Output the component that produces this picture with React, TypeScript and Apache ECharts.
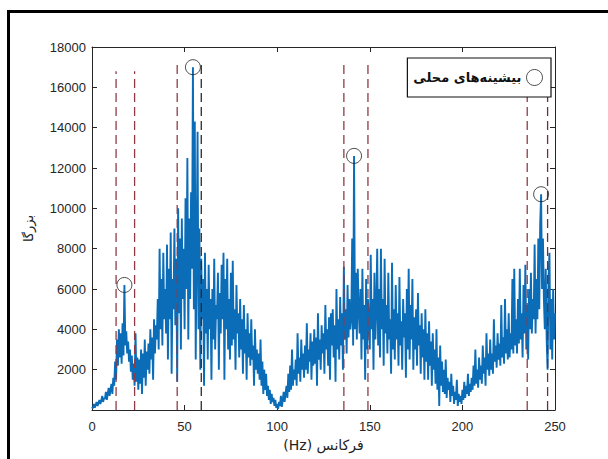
import React, { useEffect, useRef } from "react";
import * as echarts from "echarts";

const magnitude: number[] = [
  150, 80, 300, 120, 250, 400, 200, 350, 500, 300,
  450, 700, 400, 600, 550, 900, 500, 800, 1100, 700,
  1000, 1300, 800, 1600, 1200, 2400, 1500, 3500, 2200, 4000,
  2600, 3800, 2300, 4300, 2700, 6200, 3200, 3900, 2800, 3400,
  2400, 3000, 1900, 2700, 1500, 2300, 1200, 3800, 1400, 2600,
  1000, 2500, 1300, 3000, 800, 2800, 1600, 3500, 1200, 2900,
  2000, 3300, 1800, 4000, 2500, 3600, 1500, 4500, 2800, 4200,
  3500, 5500, 3000, 8000, 4000, 6500, 3200, 7800, 4500, 6000,
  3800, 8200, 2500, 7000, 4500, 8800, 1800, 6500, 5000, 9000,
  4200, 7500, 1400, 10000, 4800, 8500, 3000, 9500, 5500, 8000,
  4000, 10500, 6000, 12500, 3500, 9500, 5500, 10800, 7000, 17000,
  5000, 14300, 2500, 8000, 13800, 4000, 9000, 2000, 7500, 4500,
  6500, 1200, 7800, 3800, 6000, 2500, 7200, 4000, 5500, 1500,
  6000, 3500, 7500, 3000, 5200, 4500, 6800, 2000, 5800, 3800,
  7200, 4500, 7800, 1500, 6500, 4000, 7500, 3000, 5500, 2500,
  6800, 3200, 7400, 3500, 5000, 2000, 6200, 3800, 4800, 2600,
  5500, 3000, 4500, 1800, 5200, 2800, 4000, 1500, 4800, 2600,
  3800, 2200, 4500, 2500, 3200, 1200, 4000, 2000, 3000, 1800,
  2800, 1500, 3500, 1200, 2400, 800, 2000, 1000, 1800, 700,
  1200, 500, 1000, 300, 800, 400, 600, 200, 500, 100,
  300, 50, 400, 200, 700, 150, 500, 900, 400, 800,
  1200, 600, 1800, 900, 2200, 1000, 3000, 1200, 2000, 1500,
  2500, 1200, 3800, 1800, 2600, 1400, 3500, 2000, 2800, 1600,
  3200, 2000, 4300, 1800, 3000, 2400, 3800, 1500, 3400, 2200,
  4000, 2300, 3600, 1200, 4800, 2500, 3500, 2000, 4200, 2800,
  3800, 1800, 5200, 3000, 4000, 2200, 4600, 1500, 4800, 3200,
  5000, 2600, 4200, 1400, 6000, 3000, 4500, 2500, 5600, 3200,
  4800, 2000, 7100, 3500, 5000, 2800, 6200, 3600, 5500, 4000,
  4500, 8500, 3200, 12600, 4000, 6800, 3500, 7000, 5000, 3800,
  6000, 2500, 7000, 3500, 5200, 1500, 6500, 3000, 5500, 4200,
  3000, 7700, 4000, 5500, 2000, 6800, 3500, 5000, 8000, 3200,
  6000, 2600, 8000, 4000, 5500, 2200, 7500, 3800, 5200, 2800,
  6800, 3500, 4500, 1800, 7300, 3000, 5000, 2500, 6200, 3500,
  4800, 2200, 6600, 3200, 4400, 2000, 5500, 3600, 4800, 1600,
  6000, 3000, 7000, 2500, 5200, 3500, 6500, 2000, 4600, 3000,
  5000, 2200, 5800, 3200, 4200, 1800, 4800, 2600, 4000, 1500,
  5000, 2400, 3800, 1500, 4400, 2200, 3400, 1200, 3800, 2000,
  3000, 1300, 4000, 1000, 2600, 200, 3200, 1200, 2400, 900,
  2000, 800, 2500, 600, 1600, 1000, 1400, 400, 1800, 700,
  1200, 300, 900, 500, 1500, 200, 800, 400, 700, 300,
  1000, 500, 1400, 600, 1200, 800, 1800, 700, 1300, 900,
  1600, 1000, 2200, 1200, 3000, 1300, 2000, 1100, 2600, 1500,
  2200, 1300, 3200, 1800, 2600, 1200, 3800, 2000, 2800, 1700,
  3500, 2000, 2800, 1800, 4500, 2400, 3200, 2100, 3800, 2500,
  3300, 2200, 5200, 2600, 3600, 2300, 5500, 2800, 4000, 2500,
  4800, 2600, 3800, 3000, 6500, 2800, 7000, 3200, 4500, 2800,
  5500, 3300, 7000, 3500, 4800, 2600, 6200, 3800, 7200, 3000,
  5200, 2500, 6000, 4000, 6800, 3800, 5500, 4500, 8200, 3800,
  6500, 4500, 8500, 5000, 9200, 10700, 6000, 8500, 5500, 4000,
  7000, 3500, 2000, 6500, 7800, 3000, 5500, 2500, 6000, 3500, 4800,
];
const sampleStep = 0.5;

const peakFreqs: number[] = [17.5, 54.5, 141.5, 242.5];
const peakMags: number[] = [6200, 17000, 12600, 10700];

const boundFreqs: number[] = [13, 23, 46, 59, 136, 149, 235, 246];
const boundTops: number[] = [16800, 16800, 17300, 17300, 17200, 17200, 15700, 15700];
const boundColors: string[] = ["#8e3b46", "#8e3b46", "#8e3b46", "#2a2a2a", "#8e3b46", "#8e3b46", "#8e3b46", "#6e2f38"];

const xTicks = { min: 0, max: 250, interval: 50 };
const yTicks = { min: 0, max: 18000, interval: 2000 };

const legendName = "بیشینه‌های محلی";
const xName = "(Hz) فرکانس";
const yName = "بزرگا";

export default function App() {
  const ref = useRef<HTMLDivElement>(null);
  useEffect(() => {
    document.body.style.margin = "0";
    if (!ref.current) return;
    const chart = echarts.init(ref.current, null, { renderer: "svg" });
    const lineData = magnitude.map((v, i) => [i * sampleStep, v]);
    const peakData = peakFreqs.map((f, i) => [f, peakMags[i]]);
    const boundSeries = boundFreqs.map((f, i) => ({
      type: "line",
      data: [
        [f, 0],
        [f, boundTops[i]],
      ],
      symbol: "none",
      silent: true,
      z: 3,
      lineStyle: { color: boundColors[i], width: 1.3, type: [9, 5] },
    }));
    const tickLabel = { color: "#262626", fontSize: 13, fontFamily: "Liberation Sans, Arial, sans-serif" };
    chart.setOption({
      animation: false,
      backgroundColor: "#ffffff",
      grid: { left: 92, right: 53, top: 47, bottom: 49, containLabel: false },
      legend: {
        data: [{ name: legendName, icon: "circle" }],
        right: 57,
        top: 58,
        align: "right",
        orient: "vertical",
        borderColor: "#111",
        borderWidth: 1.2,
        padding: [11, 8, 11, 6],
        itemWidth: 16,
        itemHeight: 16,
        itemGap: 0,
        backgroundColor: "#fff",
        itemStyle: { color: "#fff", borderColor: "#222", borderWidth: 1 },
        textStyle: { fontSize: 13, fontWeight: "bold", color: "#111", fontFamily: "DejaVu Sans, sans-serif" },
      },
      xAxis: [
        {
          type: "value",
          ...xTicks,
          name: xName,
          nameLocation: "middle",
          nameGap: 27,
          nameTextStyle: { fontSize: 14, color: "#222", fontFamily: "DejaVu Sans, sans-serif" },
          axisLine: { show: true, onZero: false, lineStyle: { color: "#262626", width: 1 } },
          axisTick: { show: true, inside: true, length: 5, lineStyle: { color: "#262626" } },
          axisLabel: { ...tickLabel, margin: 10 },
          splitLine: { show: false },
        },
        {
          type: "value",
          ...xTicks,
          position: "top",
          axisLine: { show: true, onZero: false, lineStyle: { color: "#262626", width: 1 } },
          axisTick: { show: true, inside: true, length: 5, lineStyle: { color: "#262626" } },
          axisLabel: { show: false },
          splitLine: { show: false },
        },
      ],
      yAxis: [
        {
          type: "value",
          ...yTicks,
          name: yName,
          nameLocation: "middle",
          nameGap: 57,
          nameRotate: 90,
          nameTextStyle: { fontSize: 13, color: "#222", fontFamily: "DejaVu Sans, sans-serif" },
          axisLine: { show: true, onZero: false, lineStyle: { color: "#262626", width: 1 } },
          axisTick: { show: true, inside: true, length: 5, lineStyle: { color: "#262626" } },
          axisLabel: { ...tickLabel, margin: 6, formatter: (v: number) => (v === 0 ? "" : String(v)) },
          splitLine: { show: false },
        },
        {
          type: "value",
          ...yTicks,
          position: "right",
          axisLine: { show: true, onZero: false, lineStyle: { color: "#262626", width: 1 } },
          axisTick: { show: true, inside: true, length: 5, lineStyle: { color: "#262626" } },
          axisLabel: { show: false },
          splitLine: { show: false },
        },
      ],
      graphic: [
        {
          type: "rect",
          shape: { x: 8.5, y: 11.5, width: 700, height: 600 },
          style: { fill: "none", stroke: "#000", lineWidth: 3 },
          silent: true,
          z: 100,
        },
      ],
      series: [
        {
          type: "line",
          name: "spectrum",
          data: lineData,
          symbol: "none",
          z: 2,
          lineStyle: { color: "#0b6cb8", width: 1.9 },
        },
        ...boundSeries,
        {
          type: "scatter",
          name: legendName,
          data: peakData,
          symbol: "circle",
          symbolSize: 15,
          z: 4,
          itemStyle: { color: "rgba(255,255,255,0)", borderColor: "#222", borderWidth: 1 },
        },
      ],
    });
    return () => chart.dispose();
  }, []);
  return <div ref={ref} style={{ width: 608, height: 459 }} />;
}
